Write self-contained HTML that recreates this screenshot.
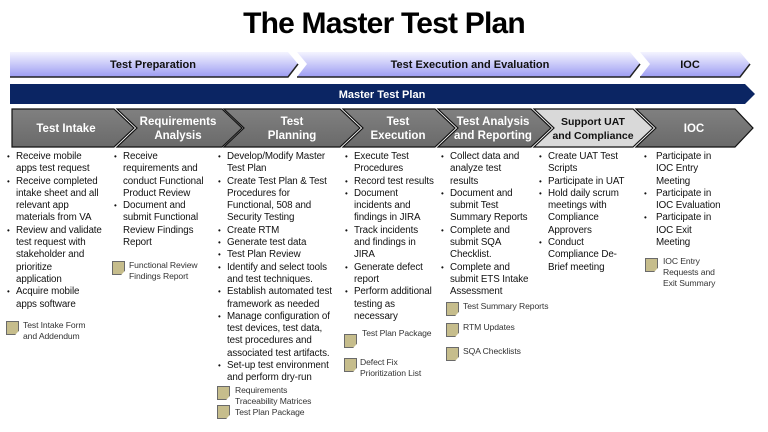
<!DOCTYPE html>
<html><head><meta charset="utf-8"><style>
body{margin:0;background:#fff;width:768px;height:432px;overflow:hidden;position:relative;font-family:"Liberation Sans",sans-serif}
.t{position:absolute;left:0;width:768px;top:7px;text-align:center;font-weight:bold;font-size:30px;letter-spacing:-0.8px;color:#000}
svg{position:absolute;left:0;top:0}
.col{position:absolute;font-size:9.8px;line-height:12.3px;color:#111;white-space:nowrap;letter-spacing:-0.1px}
.col div{padding-left:10px;position:relative}
.col div.b:before{content:"•";position:absolute;left:1px;top:0;font-size:8px}
.doc{position:absolute;font-size:8.6px;line-height:11px;color:#333;white-space:nowrap;letter-spacing:-0.1px}
.ic{position:absolute;width:11px;height:12px;background:#c6bd8c;border:1px solid #6a6a6a;clip-path:polygon(0 0,100% 0,100% 70%,70% 100%,0 100%)}
</style></head><body>
<div class="t">The Master Test Plan</div>
<svg width="768" height="432">
<defs>
<linearGradient id="lv" x1="0" y1="0" x2="0" y2="1"><stop offset="0" stop-color="#f4f4ff"/><stop offset="1" stop-color="#9c9cf2"/></linearGradient>
<linearGradient id="gr" x1="0" y1="0" x2="0" y2="1"><stop offset="0" stop-color="#808080"/><stop offset="1" stop-color="#6a6a6a"/></linearGradient>
</defs>
<g>
<polygon points="10,52 288,52 298,64 288,77 10,77" fill="url(#lv)"/>
<polygon points="297,52 630,52 640,64 630,77 297,77 307,64" fill="url(#lv)"/>
<polygon points="640,52 740,52 750,64 740,77 640,77 650,64" fill="url(#lv)"/>
</g>
<g stroke="#222" stroke-width="1.5" fill="none">
<polyline points="10,77 288,77 298,64"/>
<polyline points="297,77 630,77 640,64"/>
<polyline points="640,77 740,77 750,64"/>
</g>
<polygon points="10,84 745,84 755,94 745,104 10,104" fill="#0b2563"/>
<g stroke="#111" stroke-width="1.2" fill="url(#gr)">
<polygon points="12,109 114,109 134,128 114,147 12,147"/>
<polygon points="117,109 222,109 242,128 222,147 117,147 137,128"/>
<polygon points="224,109 340,109 360,128 340,147 224,147 244,128"/>
<polygon points="343,109 435,109 455,128 435,147 343,147 363,128"/>
<polygon points="438,109 531,109 551,128 531,147 438,147 458,128"/>
<polygon points="534,109 633,109 653,128 633,147 534,147 554,128" fill="#d9d9d9"/>
<polygon points="636,109 735,109 753,128 735,147 636,147 656,128"/>
</g>
<g font-family="Liberation Sans,sans-serif" font-weight="bold" font-size="11" text-anchor="middle">
<text x="153" y="68" fill="#111">Test Preparation</text>
<text x="470" y="68" fill="#111">Test Execution and Evaluation</text>
<text x="690" y="68" fill="#111">IOC</text>
<text x="382" y="98" fill="#fff">Master Test Plan</text>
<g fill="#fff" font-size="11.5">
<text x="66" y="132">Test Intake</text>
<text x="178" y="125">Requirements</text><text x="178" y="139">Analysis</text>
<text x="292" y="125">Test</text><text x="292" y="139">Planning</text>
<text x="398" y="125">Test</text><text x="398" y="139">Execution</text>
<text x="493" y="125">Test Analysis</text><text x="493" y="139">and Reporting</text>
<text x="593" y="125" fill="#111" font-size="10.5">Support UAT</text><text x="593" y="139" fill="#111" font-size="10.5">and Compliance</text>
<text x="694" y="132">IOC</text>
</g></g>
</svg>

<div class="col" style="left:6px;top:151px">
<div class="b">Receive mobile</div><div>apps test request</div>
<div class="b">Receive completed</div><div>intake sheet and all</div><div>relevant app</div><div>materials from VA</div>
<div class="b">Review and validate</div><div>test request with</div><div>stakeholder and</div><div>prioritize</div><div>application</div>
<div class="b">Acquire mobile</div><div>apps software</div>
</div>
<div class="col" style="left:113px;top:151px">
<div class="b">Receive</div><div>requirements and</div><div>conduct Functional</div><div>Product Review</div>
<div class="b">Document and</div><div>submit Functional</div><div>Review Findings</div><div>Report</div>
</div>
<div class="col" style="left:217px;top:151px">
<div class="b">Develop/Modify Master</div><div>Test Plan</div>
<div class="b">Create Test Plan &amp; Test</div><div>Procedures for</div><div>Functional, 508 and</div><div>Security Testing</div>
<div class="b">Create RTM</div><div class="b">Generate test data</div><div class="b">Test Plan Review</div>
<div class="b">Identify and select tools</div><div>and test techniques.</div>
<div class="b">Establish automated test</div><div>framework as needed</div>
<div class="b">Manage configuration of</div><div>test devices, test data,</div><div>test procedures and</div><div>associated test artifacts.</div>
<div class="b">Set-up test environment</div><div>and perform dry-run</div>
</div>
<div class="col" style="left:344px;top:151px">
<div class="b">Execute Test</div><div>Procedures</div><div class="b">Record test results</div>
<div class="b">Document</div><div>incidents and</div><div>findings in JIRA</div>
<div class="b">Track incidents</div><div>and findings in</div><div>JIRA</div>
<div class="b">Generate defect</div><div>report</div>
<div class="b">Perform additional</div><div>testing as</div><div>necessary</div>
</div>
<div class="col" style="left:440px;top:151px">
<div class="b">Collect data and</div><div>analyze test</div><div>results</div>
<div class="b">Document and</div><div>submit Test</div><div>Summary Reports</div>
<div class="b">Complete and</div><div>submit SQA</div><div>Checklist.</div>
<div class="b">Complete and</div><div>submit ETS Intake</div><div>Assessment</div>
</div>
<div class="col" style="left:538px;top:151px">
<div class="b">Create UAT Test</div><div>Scripts</div><div class="b">Participate in UAT</div>
<div class="b">Hold daily scrum</div><div>meetings with</div><div>Compliance</div><div>Approvers</div>
<div class="b">Conduct</div><div>Compliance De-</div><div>Brief meeting</div>
</div>
<div class="col" style="left:643px;top:151px">
<div class="b" style="padding-left:13px">Participate in</div><div style="padding-left:13px">IOC Entry</div><div style="padding-left:13px">Meeting</div>
<div class="b" style="padding-left:13px">Participate in</div><div style="padding-left:13px">IOC Evaluation</div>
<div class="b" style="padding-left:13px">Participate in</div><div style="padding-left:13px">IOC Exit</div><div style="padding-left:13px">Meeting</div>
</div>

<div class="ic" style="left:6px;top:321px"></div><div class="doc" style="left:23px;top:320px">Test Intake Form<br>and Addendum</div>
<div class="ic" style="left:112px;top:261px"></div><div class="doc" style="left:129px;top:260px">Functional Review<br>Findings Report</div>
<div class="ic" style="left:217px;top:386px"></div><div class="doc" style="left:235px;top:385px">Requirements<br>Traceability Matrices</div>
<div class="ic" style="left:217px;top:405px"></div><div class="doc" style="left:235px;top:407px">Test Plan Package</div>
<div class="ic" style="left:344px;top:334px"></div><div class="doc" style="left:362px;top:328px">Test Plan Package</div>
<div class="ic" style="left:344px;top:358px"></div><div class="doc" style="left:360px;top:357px">Defect Fix<br>Prioritization List</div>
<div class="ic" style="left:446px;top:302px"></div><div class="doc" style="left:463px;top:301px">Test Summary Reports</div>
<div class="ic" style="left:446px;top:323px"></div><div class="doc" style="left:463px;top:322px">RTM Updates</div>
<div class="ic" style="left:446px;top:347px"></div><div class="doc" style="left:463px;top:346px">SQA Checklists</div>
<div class="ic" style="left:645px;top:258px"></div><div class="doc" style="left:663px;top:256px">IOC Entry<br>Requests and<br>Exit Summary</div>
</body></html>
